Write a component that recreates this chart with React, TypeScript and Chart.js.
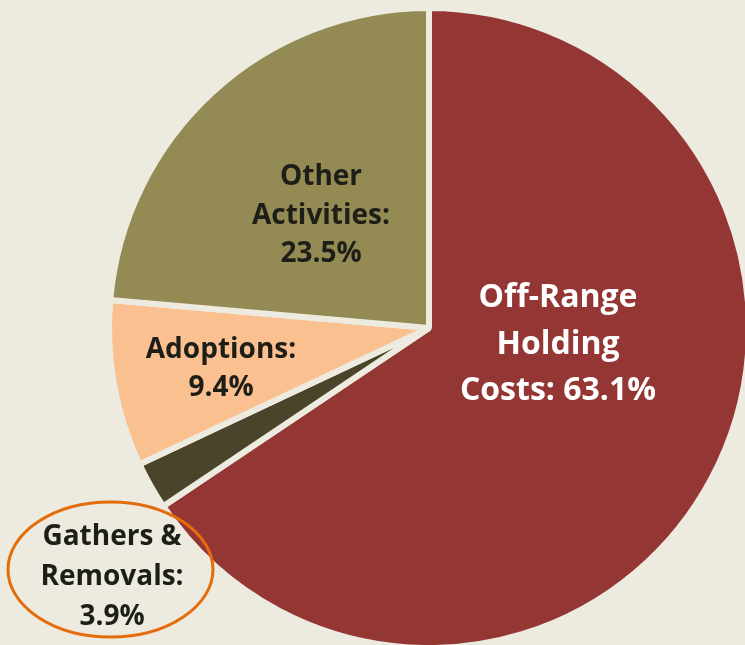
import React, { useEffect, useRef } from "react";
import { Chart, registerables } from "chart.js";

Chart.register(...registerables);

// Categories and data
const categories = ["Off-Range Holding Costs", "Gathers & Removals", "Adoptions", "Other Activities"];
// Slice shares as drawn in the picture (percent of the circle)
const sliceShares = [65.6, 2.4, 8.4, 23.6];
// Percent values printed on the labels
const labelPercents = ["63.1%", "3.9%", "9.4%", "23.5%"];
const labelLines = [
  ["Off-Range", "Holding", "Costs: " + labelPercents[0]],
  ["Gathers &", "Removals:", labelPercents[1]],
  ["Adoptions:", labelPercents[2]],
  ["Other", "Activities:", labelPercents[3]],
];
const sliceColors = ["#943634", "#4A452A", "#FAC090", "#948A54"];

const BG = "#EDEBE0";
const FONT = "'Open Sans', Lato, sans-serif";

// Label placement relative to pie centre: dx, first baseline dy, line height, font size, colour
const labelStyle = [
  { dx: 129, dy: -21, lh: 46.5, size: 32, color: "#FFFFFF" },
  { dx: -317, dy: 217, lh: 40, size: 28, color: "#1E1E18" },
  { dx: -208, dy: 30, lh: 38, size: 28, color: "#1E1E18" },
  { dx: -108, dy: -143, lh: 38.5, size: 28, color: "#1E1E18" },
];

const labelPlugin = {
  id: "sliceLabels",
  afterDatasetsDraw(chart: any) {
    const meta = chart.getDatasetMeta(0);
    const arc = meta.data[0];
    if (!arc) return;
    const cx = arc.x;
    const cy = arc.y;
    const ctx = chart.ctx;
    ctx.save();
    // highlight ellipse around the Gathers & Removals label
    ctx.beginPath();
    ctx.ellipse(cx - 318.5, cy + 241.5, 102.5, 67.5, 0, 0, Math.PI * 2);
    ctx.strokeStyle = "#E46C0A";
    ctx.lineWidth = 3;
    ctx.stroke();
    ctx.textAlign = "center";
    ctx.textBaseline = "alphabetic";
    labelLines.forEach((lines, i) => {
      const st = labelStyle[i];
      ctx.font = `bold ${st.size}px ${FONT}`;
      ctx.fillStyle = st.color;
      lines.forEach((line, j) => {
        ctx.fillText(line, cx + st.dx, cy + st.dy + j * st.lh);
      });
    });
    ctx.restore();
  },
};

export default function App() {
  const canvasRef = useRef<HTMLCanvasElement | null>(null);

  useEffect(() => {
    document.body.style.margin = "0";
    document.body.style.background = BG;
    const canvas = canvasRef.current;
    if (!canvas) return;
    const chart = new Chart(canvas, {
      type: "pie",
      data: {
        labels: categories,
        datasets: [
          {
            data: sliceShares,
            backgroundColor: sliceColors,
            borderColor: BG,
            borderWidth: 6,
          },
        ],
      },
      options: {
        responsive: false,
        animation: false,
        devicePixelRatio: 1,
        radius: 320,
        layout: { padding: { left: 113, right: 0, top: 11, bottom: 0 } },
        plugins: {
          legend: { display: false },
          tooltip: { enabled: false },
          title: { display: false },
        },
      },
      plugins: [labelPlugin],
    });
    return () => chart.destroy();
  }, []);

  return (
    <div style={{ width: 745, height: 645, background: BG, overflow: "hidden" }}>
      <canvas ref={canvasRef} width={745} height={645} style={{ display: "block" }} />
    </div>
  );
}
